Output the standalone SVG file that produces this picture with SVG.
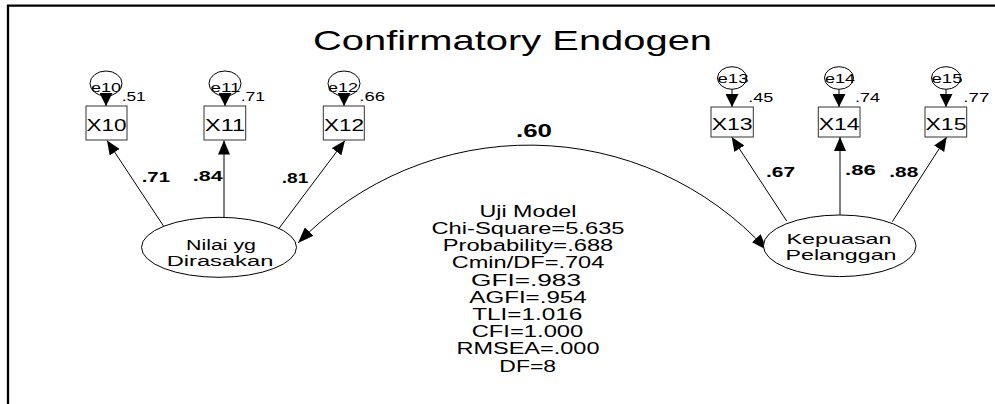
<svg xmlns="http://www.w3.org/2000/svg" width="995" height="404" viewBox="0 0 995 404">
  <style>
    text { font-family: "Liberation Sans", Arial, sans-serif; fill: #000; }
    .title { font-size: 28px; }
    .obs { fill: #fff; stroke: #333; stroke-width: 1; }
    .lat { fill: #fff; stroke: #000; stroke-width: 1; }
    .err { fill: none; stroke: #000; stroke-width: 1; }
    .lbl { font-size: 17px; text-anchor: middle; }
    .elbl { font-size: 13.5px; text-anchor: middle; }
    .var { font-size: 12.5px; }
    .load { font-size: 14px; font-weight: bold; }
    .latl { font-size: 15.5px; text-anchor: middle; }
    .latr { font-size: 14.5px; text-anchor: middle; }
    .fit { font-size: 16.3px; text-anchor: middle; }
    .edge { fill: none; stroke: #000; stroke-width: 1; }
  </style>
  <defs>
    <marker id="head" markerUnits="userSpaceOnUse" markerWidth="14" markerHeight="12" refX="14" refY="6" orient="auto">
      <path d="M0,0 L14,6 L0,12 Z" fill="#000"/>
    </marker>
    <marker id="headE" markerUnits="userSpaceOnUse" markerWidth="13" markerHeight="13" refX="13" refY="6.5" orient="auto">
      <path d="M0,0 L13,6.5 L0,13 Z" fill="#000"/>
    </marker>
    <marker id="headC" markerUnits="userSpaceOnUse" markerWidth="16" markerHeight="12" refX="16" refY="6" orient="auto-start-reverse">
      <path d="M0,0 L16,6 L0,12 Z" fill="#000"/>
    </marker>
  </defs>

  <!-- frame -->
  <path d="M8,404 V5.7 H995" fill="none" stroke="#000" stroke-width="2.3"/>

  <text class="title" x="313" y="50" textLength="399" lengthAdjust="spacingAndGlyphs">Confirmatory Endogen</text>

  <!-- connectors -->
  <g id="connectors">
    <!-- error terms -->
    <path class="edge" d="M106,96 L106,106" marker-end="url(#headE)"/>
    <path class="edge" d="M225,96 L225,106" marker-end="url(#headE)"/>
    <path class="edge" d="M344,96 L344,106" marker-end="url(#headE)"/>
    <path class="edge" d="M732,89.3 L732,107" marker-end="url(#headE)"/>
    <path class="edge" d="M839,89.3 L839,107" marker-end="url(#headE)"/>
    <path class="edge" d="M946,89.3 L946,107" marker-end="url(#headE)"/>
    <!-- loadings -->
    <path class="edge" d="M165,228.3 L107,140.5" marker-end="url(#head)"/>
    <path class="edge" d="M224,220.5 L224,140.5" marker-end="url(#head)"/>
    <path class="edge" d="M278.3,229.3 L345,140.5" marker-end="url(#head)"/>
    <path class="edge" d="M786.7,221 L731.7,137" marker-end="url(#head)"/>
    <path class="edge" d="M840,215 L840,137" marker-end="url(#head)"/>
    <path class="edge" d="M892.3,221.7 L946.7,137" marker-end="url(#head)"/>
    <!-- covariance -->
    <path class="edge" d="M298,243 A322,322 0 0 1 767,250" marker-start="url(#headC)" marker-end="url(#headC)"/>
  </g>

  <!-- loading values -->
  <g id="loadings">
    <text class="load" x="141.7" y="181.7" textLength="28.3" lengthAdjust="spacingAndGlyphs">.71</text>
    <text class="load" x="192.7" y="180.5" textLength="30" lengthAdjust="spacingAndGlyphs">.84</text>
    <text class="load" x="281.7" y="183.3" textLength="26.6" lengthAdjust="spacingAndGlyphs">.81</text>
    <text class="load" x="766" y="176.7" textLength="29" lengthAdjust="spacingAndGlyphs">.67</text>
    <text class="load" x="845" y="175" textLength="30.7" lengthAdjust="spacingAndGlyphs">.86</text>
    <text class="load" x="889.3" y="176.7" textLength="29" lengthAdjust="spacingAndGlyphs">.88</text>
    <text class="load" x="516" y="137" style="font-size:18px" textLength="36" lengthAdjust="spacingAndGlyphs">.60</text>
  </g>

  <!-- indicators, left -->
  <g id="X10">
    <ellipse class="err" cx="106" cy="83.5" rx="16" ry="12.5"/>
    <text class="elbl" x="106" y="92" textLength="30" lengthAdjust="spacingAndGlyphs">e10</text>
    <text class="var" x="121.7" y="100.7" textLength="24" lengthAdjust="spacingAndGlyphs">.51</text>
    <rect class="obs" x="86" y="106" width="41" height="34"/>
    <text class="lbl" x="106.5" y="130.7" textLength="40" lengthAdjust="spacingAndGlyphs">X10</text>
  </g>
  <g id="X11">
    <ellipse class="err" cx="225" cy="83.5" rx="16" ry="12.5"/>
    <text class="elbl" x="225.5" y="92" textLength="30" lengthAdjust="spacingAndGlyphs">e11</text>
    <text class="var" x="240.7" y="100.7" textLength="24.3" lengthAdjust="spacingAndGlyphs">.71</text>
    <rect class="obs" x="204" y="106" width="41.7" height="34"/>
    <text class="lbl" x="225" y="130.7" textLength="40" lengthAdjust="spacingAndGlyphs">X11</text>
  </g>
  <g id="X12">
    <ellipse class="err" cx="344" cy="83.5" rx="16" ry="12.5"/>
    <text class="elbl" x="343" y="92" textLength="30" lengthAdjust="spacingAndGlyphs">e12</text>
    <text class="var" x="359.3" y="100.7" textLength="25.7" lengthAdjust="spacingAndGlyphs">.66</text>
    <rect class="obs" x="323.3" y="106" width="41" height="34"/>
    <text class="lbl" x="344" y="130.7" textLength="40" lengthAdjust="spacingAndGlyphs">X12</text>
  </g>

  <!-- indicators, right -->
  <g id="X13">
    <ellipse class="err" cx="732" cy="78" rx="14.5" ry="11.3"/>
    <text class="elbl" x="733" y="83.3" textLength="31" lengthAdjust="spacingAndGlyphs">e13</text>
    <text class="var" x="748.3" y="101.7" textLength="25" lengthAdjust="spacingAndGlyphs">.45</text>
    <rect class="obs" x="711" y="107" width="42.3" height="30"/>
    <text class="lbl" x="732.2" y="130" textLength="41" lengthAdjust="spacingAndGlyphs">X13</text>
  </g>
  <g id="X14">
    <ellipse class="err" cx="839" cy="78" rx="14.5" ry="11.3"/>
    <text class="elbl" x="840" y="83.3" textLength="30" lengthAdjust="spacingAndGlyphs">e14</text>
    <text class="var" x="855" y="101.7" textLength="25" lengthAdjust="spacingAndGlyphs">.74</text>
    <rect class="obs" x="818.3" y="107" width="41.7" height="30"/>
    <text class="lbl" x="839.2" y="130" textLength="41" lengthAdjust="spacingAndGlyphs">X14</text>
  </g>
  <g id="X15">
    <ellipse class="err" cx="946" cy="78" rx="14.5" ry="11.3"/>
    <text class="elbl" x="947" y="83.3" textLength="31" lengthAdjust="spacingAndGlyphs">e15</text>
    <text class="var" x="963.3" y="101.7" textLength="26" lengthAdjust="spacingAndGlyphs">.77</text>
    <rect class="obs" x="925" y="107" width="41.7" height="30"/>
    <text class="lbl" x="946" y="130" textLength="41" lengthAdjust="spacingAndGlyphs">X15</text>
  </g>

  <!-- latent variables -->
  <g id="NilaiDirasakan">
    <ellipse class="lat" cx="219" cy="247.3" rx="77.5" ry="30"/>
    <text class="latl" x="221" y="250" textLength="70" lengthAdjust="spacingAndGlyphs">Nilai yg</text>
    <text class="latl" x="220" y="266" textLength="106.7" lengthAdjust="spacingAndGlyphs">Dirasakan</text>
  </g>
  <g id="KepuasanPelanggan">
    <ellipse class="lat" cx="839.7" cy="245.8" rx="76.3" ry="30.8"/>
    <text class="latr" x="839" y="243.5" textLength="105" lengthAdjust="spacingAndGlyphs">Kepuasan</text>
    <text class="latr" x="841" y="260" textLength="111" lengthAdjust="spacingAndGlyphs">Pelanggan</text>
  </g>

  <!-- fit statistics -->
  <g id="UjiModel">
    <text class="fit" x="528" y="216.7" textLength="97" lengthAdjust="spacingAndGlyphs">Uji Model</text>
    <text class="fit" x="528" y="233.9" textLength="193" lengthAdjust="spacingAndGlyphs">Chi-Square=5.635</text>
    <text class="fit" x="528" y="251.1" textLength="170.6" lengthAdjust="spacingAndGlyphs">Probability=.688</text>
    <text class="fit" x="528" y="268.3" textLength="152.6" lengthAdjust="spacingAndGlyphs">Cmin/DF=.704</text>
    <text class="fit" x="526" y="285.5" textLength="110" lengthAdjust="spacingAndGlyphs">GFI=.983</text>
    <text class="fit" x="528" y="302.7" textLength="117.4" lengthAdjust="spacingAndGlyphs">AGFI=.954</text>
    <text class="fit" x="527.3" y="319.9" textLength="110" lengthAdjust="spacingAndGlyphs">TLI=1.016</text>
    <text class="fit" x="527.5" y="337.1" textLength="111.6" lengthAdjust="spacingAndGlyphs">CFI=1.000</text>
    <text class="fit" x="528" y="354.3" textLength="143" lengthAdjust="spacingAndGlyphs">RMSEA=.000</text>
    <text class="fit" x="527.7" y="371.5" textLength="56.7" lengthAdjust="spacingAndGlyphs">DF=8</text>
  </g>
</svg>
